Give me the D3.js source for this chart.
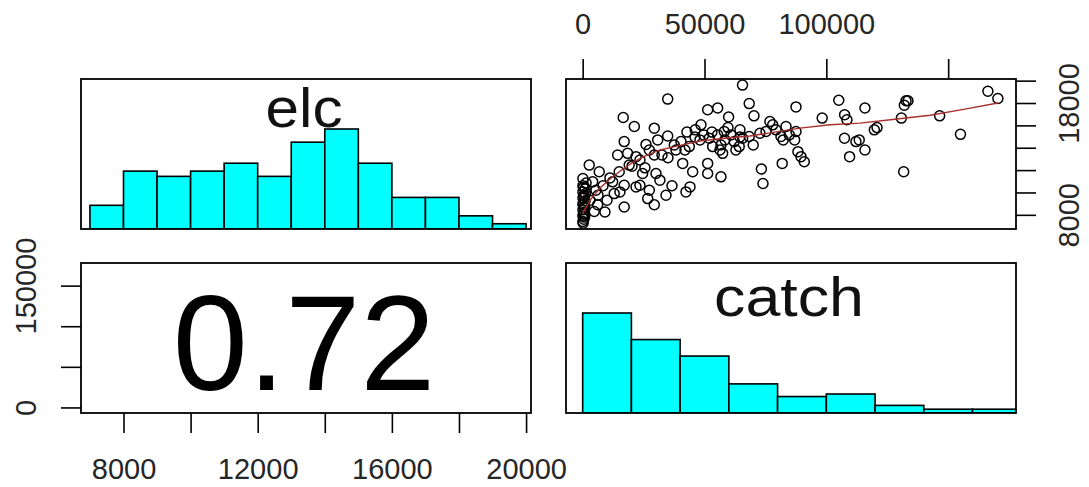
<!DOCTYPE html>
<html>
<head>
<meta charset="utf-8">
<script src="https://cdn.jsdelivr.net/npm/d3@7"></script>
<style>
    body { margin: 0; background: #fff; }
    text { font-family: "Liberation Sans", Arial, sans-serif; }
</style>
</head>
<body>
<script>
const varNames = ["elc", "catch"];
const corrLabel = "0.72";

const elcRange = [7230, 19650];
const catchRange = [0, 171000];

const elcBreaks = [7000, 8000, 9000, 10000, 11000, 12000, 13000, 14000, 15000, 16000, 17000, 18000, 19000, 20000];
const elcCounts = [9, 22, 20, 22, 25, 20, 33, 38, 25, 12, 12, 5, 2];

const catchBreaks = [0, 20000, 40000, 60000, 80000, 100000, 120000, 140000, 160000, 180000];
const catchCounts = [79, 58, 45, 23, 13, 15, 6, 3, 3];

const elcTicks = [8000, 10000, 12000, 14000, 16000, 18000, 20000];
const elcBottomLabels = ["8000", "", "12000", "", "16000", "", "20000"];
const elcRightLabels = ["8000", "", "", "", "", "18000", ""];
const catchTicks = [0, 50000, 100000, 150000];
const catchTopLabels = ["0", "50000", "100000", ""];
const catchLeftLabels = ["0", "", "", "150000"];

// [catch, elc]
const points = [
    [100,7400],[500,7600],[100,7900],[500,8150],[100,8450],[500,8700],[100,8950],[1000,9250],[100,9500],[500,9750],
    [100,10050],[1000,10300],[100,10600],[1400,10850],[100,11250],[4100,10950],[2700,12450],[6800,11850],[4750,8300],[6150,8900],
    [5450,10200],[200,7250],[800,7800],[300,8050],[900,8600],[300,9100],[700,9650],[1200,9900],[400,10450],
    [34900,18350],[16650,16700],[21200,15900],[29400,15750],[34900,15050],[42800,15400],[48550,16050],[51300,17400],[46200,15600],[49650,15150],
    [17050,14550],[26000,14300],[30800,14700],[14350,13350],[18450,13500],[21900,13200],[27350,13800],[29400,13350],[37600,14250],[40350,14550],
    [43750,14100],[51950,14850],[53350,14100],[15000,11850],[19100,12450],[24600,11700],[30100,11700],[41050,12600],[45150,11850],[51300,12600],
    [51300,11700],[12300,10950],[17050,10650],[21900,10500],[27350,10200],[26700,9450],[29400,8900],[34200,9750],[42400,10050],[44050,10500],
    [17050,8700],[12950,9900],
    [65600,19600],[68350,17950],[87550,17650],[105100,18250],[115850,17550],[132000,17800],[132700,18200],[133500,18200],[166300,19050],[170400,18400],
    [146500,16850],[155050,15200],[131750,11850],[130800,16650],[119700,15600],[120800,15800],[107500,16950],[108450,16500],[98300,16650],[107450,14850],
    [113500,14700],[112150,14550],[115850,13800],[109550,13200],[88350,13650],[87000,14700],[82300,14700],[81900,12600],[73350,12100],[74000,10800],
    [70300,16850],[70000,14250],[76850,16350],[75250,15450],[78000,16050],[79350,15600],[83450,15900],[81400,15000],[84800,15150],[87550,15450],
    [89600,13200],[90950,12750],[55400,17550],[59900,16750],[64550,15600],[59650,15800],[56350,13800],[56750,11400],[55400,15150],[58100,15450],
    [60850,15150],[65650,14850],[68350,15000],[56750,14250],[62200,14550],[64250,14100],[57450,13500],[62900,13800],
    [48150,14700],[53050,15400],[46100,14950],[38300,13800],[32550,13350],[23500,12900],[20250,12350],[11200,11300],[8350,10600],[6300,9750],
    [25550,12200],[35000,13100],[42000,13800],[58400,14700],[72750,15300],[64550,14950],[15300,10050],[10000,9300],[3000,9300],[9150,8250],
    [23500,10650],[31700,11100],[36650,10600]
];

const smooth = [
    [100,8150],[3000,9300],[7100,10400],[11200,11200],[15300,11900],[20250,12650],[25550,13250],[31700,13800],[38700,14150],[48150,14600],
    [58400,14850],[68650,15050],[78900,15400],[89200,15750],[101500,16050],[113800,16200],[128150,16550],[142550,16900],[156900,17450],[170400,18000]
];

const width = 1089;
const height = 487;
const colX = [81, 566];
const rowY = [79, 263];
const boxW = 450;
const boxH = 150;

const pad = r => [r[0] - (r[1] - r[0]) * 0.04, r[1] + (r[1] - r[0]) * 0.04];

const svg = d3
            .select("body")
            .append("svg")
            .attr("width", width)
            .attr("height", height);

const xElc = d3.scaleLinear().domain(pad(elcRange)).range([colX[0], colX[0] + boxW]);
const yElc = d3.scaleLinear().domain(pad(elcRange)).range([rowY[0] + boxH, rowY[0]]);
const xCatch = d3.scaleLinear().domain(pad(catchRange)).range([colX[1], colX[1] + boxW]);
const yCatch = d3.scaleLinear().domain(pad(catchRange)).range([rowY[1] + boxH, rowY[1]]);

const defs = svg.append("defs");
[[0, 0], [1, 1], [1, 0]].forEach(([c, r]) => {
    defs.append("clipPath")
        .attr("id", `clip${c}${r}`)
        .append("rect")
        .attr("x", colX[c])
        .attr("y", rowY[r])
        .attr("width", boxW)
        .attr("height", boxH);
});

// histograms on the diagonal
const drawHist = function (breaks, counts, xScale, row, col) {
    const yHist = d3.scaleLinear().domain([0, 1.5]).range([rowY[row] + boxH, rowY[row]]);
    const maxCount = d3.max(counts);
    svg.append("g")
        .attr("clip-path", `url(#clip${col}${row})`)
        .selectAll("rect")
        .data(counts)
        .join("rect")
        .attr("x", (d, i) => xScale(breaks[i]))
        .attr("width", (d, i) => xScale(breaks[i + 1]) - xScale(breaks[i]))
        .attr("y", d => yHist(d / maxCount))
        .attr("height", d => yHist(0) - yHist(d / maxCount))
        .attr("fill", "#00ffff")
        .attr("stroke", "#000")
        .attr("stroke-width", 1.6);
};
drawHist(elcBreaks, elcCounts, xElc, 0, 0);
drawHist(catchBreaks, catchCounts, xCatch, 1, 1);

svg.append("text")
    .attr("x", colX[0] + boxW / 2 - 2)
    .attr("y", 127)
    .attr("text-anchor", "middle")
    .attr("textLength", 77)
    .attr("lengthAdjust", "spacingAndGlyphs")
    .style("font-size", "56px")
    .attr("fill", "#111")
    .text(varNames[0]);

svg.append("text")
    .attr("x", colX[1] + boxW / 2 - 2)
    .attr("y", 316)
    .attr("text-anchor", "middle")
    .attr("textLength", 150)
    .attr("lengthAdjust", "spacingAndGlyphs")
    .style("font-size", "55px")
    .attr("fill", "#111")
    .text(varNames[1]);

// scatter with smoother
svg.append("g")
    .attr("clip-path", "url(#clip10)")
    .selectAll("circle")
    .data(points)
    .join("circle")
    .attr("cx", d => xCatch(d[0]))
    .attr("cy", d => yElc(d[1]))
    .attr("r", 5)
    .attr("fill", "none")
    .attr("stroke", "#000")
    .attr("stroke-width", 1.5);

const line = d3.line()
                .x(d => xCatch(d[0]))
                .y(d => yElc(d[1]));
svg.append("path")
    .attr("d", line(smooth))
    .attr("fill", "none")
    .attr("stroke", "#a8302c")
    .attr("stroke-width", 1.4);

// correlation panel
svg.append("text")
    .attr("x", colX[0] + boxW / 2 - 2)
    .attr("y", 390)
    .attr("text-anchor", "middle")
    .style("font-size", "135px")
    .text(corrLabel);

// panel boxes
[[0, 0], [1, 0], [0, 1], [1, 1]].forEach(([c, r]) => {
    svg.append("rect")
        .attr("x", colX[c])
        .attr("y", rowY[r])
        .attr("width", boxW)
        .attr("height", boxH)
        .attr("fill", "none")
        .attr("stroke", "#000")
        .attr("stroke-width", 1.8);
});

// axes
const styleAxis = function (g) {
    g.select(".domain").remove();
    g.selectAll("line").attr("stroke", "#000").attr("stroke-width", 1.6);
    g.selectAll("text")
        .attr("fill", "#262626")
        .style("font-size", "29px")
        .style("font-family", "'Liberation Sans', Arial, sans-serif");
};

svg.append("g")
    .attr("transform", `translate(0,${rowY[0]})`)
    .call(d3.axisTop(xCatch).tickValues(catchTicks).tickSize(20).tickPadding(25)
        .tickFormat((d, i) => catchTopLabels[i]))
    .call(styleAxis);

svg.append("g")
    .attr("transform", `translate(0,${rowY[1] + boxH})`)
    .call(d3.axisBottom(xElc).tickValues(elcTicks).tickSize(20).tickPadding(25)
        .tickFormat((d, i) => elcBottomLabels[i]))
    .call(styleAxis);

svg.append("g")
    .attr("transform", `translate(${colX[0]},0)`)
    .call(d3.axisLeft(yCatch).tickValues(catchTicks).tickSize(20)
        .tickFormat((d, i) => catchLeftLabels[i]))
    .call(styleAxis)
    .selectAll("text")
    .attr("transform", "rotate(-90)")
    .attr("x", 0)
    .attr("y", -45)
    .attr("dy", "0")
    .style("text-anchor", "middle");

svg.append("g")
    .attr("transform", `translate(${colX[1] + boxW},0)`)
    .call(d3.axisRight(yElc).tickValues(elcTicks).tickSize(20)
        .tickFormat((d, i) => elcRightLabels[i]))
    .call(styleAxis)
    .selectAll("text")
    .attr("transform", "rotate(-90)")
    .attr("x", 0)
    .attr("y", 63)
    .attr("dy", "0")
    .style("text-anchor", "middle");
</script>
</body>
</html>
